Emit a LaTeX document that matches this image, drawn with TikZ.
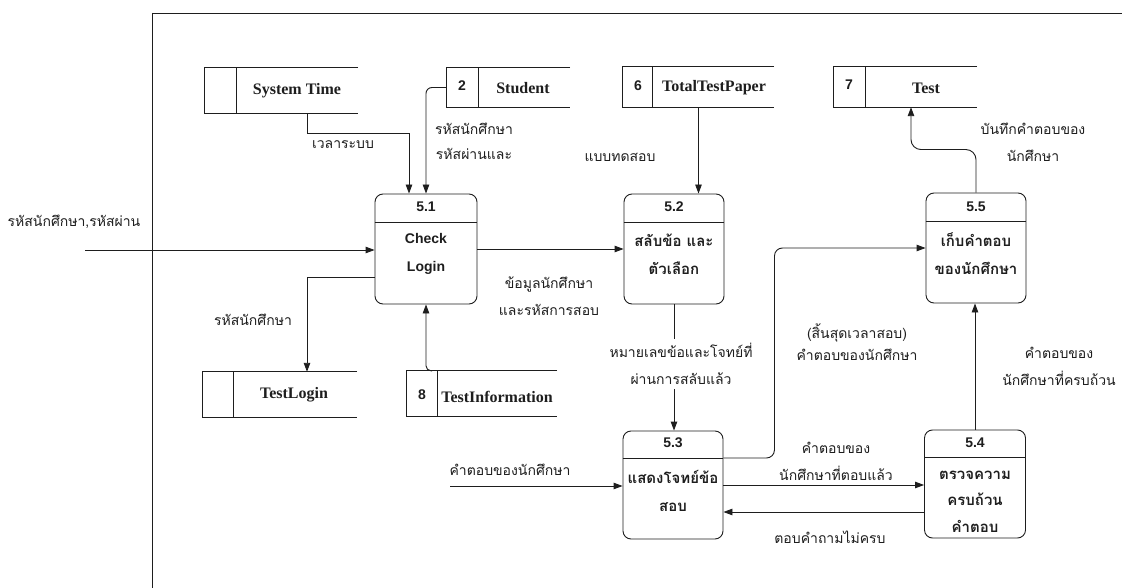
\documentclass[tikz,border=0pt]{standalone}
\usepackage{fontspec}
\setmainfont{Liberation Serif}
\newfontfamily\thaifont[Script=Thai]{Loma}
\newfontfamily\headfont{Liberation Sans}
\usetikzlibrary{arrows.meta}

\definecolor{ink}{HTML}{1E1E1E}

\tikzset{
  proc/.style={draw=ink, line width=0.9pt, rounded corners=8pt, inner sep=0pt},
  store/.style={inner sep=0pt},
  storeline/.style={draw=ink, line width=0.9pt},
  flow/.style={draw=ink, line width=0.9pt, -{Triangle[length=9pt,width=6.5pt]}},
  sname/.style={text=ink, font=\bfseries\fontsize{16}{18}\selectfont, inner sep=0pt},
  snum/.style={text=ink, font=\headfont\bfseries\fontsize{14}{16}\selectfont, inner sep=0pt},
  ptitle/.style={text=ink, font=\headfont\bfseries\fontsize{14}{16}\selectfont, inner sep=0pt},
  platin/.style={text=ink, align=center, font=\headfont\bfseries\fontsize{14}{28}\selectfont, inner sep=0pt},
  pthai/.style={text=ink, align=center, font=\thaifont\bfseries\fontsize{15}{28}\selectfont, inner sep=0pt},
  lbl/.style={text=ink, align=center, font=\thaifont\fontsize{14}{27}\selectfont, inner sep=1pt},
}

\begin{document}
\begin{tikzpicture}[x=1pt, y=-1pt]
\useasboundingbox (0,0) rectangle (1122,588);
\fill[white] (0,0) rectangle (1122,588);

% context frame
\draw[ink, line width=0.9pt] (152,13) -- (1122,13);
\draw[ink, line width=0.9pt] (152,13) -- (152,588);

% ---------- data stores ----------
\node[store, minimum width=153pt, minimum height=45pt] (systime) at (281.5,90.5) {};
\draw[storeline] (systime.north east) -- (systime.north west) -- (systime.south west) -- (systime.south east);
\draw[storeline] (236,68) -- (236,113);
\node[sname] (systimetxt) at (297,91) {System Time};

\node[store, minimum width=123pt, minimum height=39pt] (student) at (508.5,87.5) {};
\draw[storeline] (student.north east) -- (student.north west) -- (student.south west) -- (student.south east);
\draw[storeline] (478,68) -- (478,107);
\node[snum] (studentnum) at (462,86) {2};
\node[sname] (studenttxt) at (523,88) {Student};

\node[store, minimum width=151pt, minimum height=40pt] (totaltest) at (698.5,87) {};
\draw[storeline] (totaltest.north east) -- (totaltest.north west) -- (totaltest.south west) -- (totaltest.south east);
\draw[storeline] (652,67) -- (652,107);
\node[snum] (totaltestnum) at (638,86) {6};
\node[sname] (totaltesttxt) at (714,88) {TotalTestPaper};

\node[store, minimum width=143pt, minimum height=40pt] (test) at (905.5,87) {};
\draw[storeline] (test.north east) -- (test.north west) -- (test.south west) -- (test.south east);
\draw[storeline] (865,67) -- (865,107);
\node[snum] (testnum) at (849,85) {7};
\node[sname] (testtxt) at (926,88) {Test};

\node[store, minimum width=154pt, minimum height=45pt] (testlogin) at (280,394.5) {};
\draw[storeline] (testlogin.north east) -- (testlogin.north west) -- (testlogin.south west) -- (testlogin.south east);
\draw[storeline] (233,372) -- (233,417);
\node[sname] (testlogintxt) at (294,395) {TestLogin};

\node[store, minimum width=150pt, minimum height=45pt] (testinfo) at (482,393.5) {};
\draw[storeline] (testinfo.north east) -- (testinfo.north west) -- (testinfo.south west) -- (testinfo.south east);
\draw[storeline] (437,371) -- (437,416);
\node[snum] (testinfonum) at (422,395) {8};
\node[sname] (testinfotxt) at (497,397) {TestInformation};

% ---------- processes ----------
\node[proc, minimum width=102pt, minimum height=110pt] (p51) at (426,249) {};
\draw[storeline] (p51.west |- 0,222) -- (p51.east |- 0,222);
\node[ptitle] (p51t) at (426,207) {5.1};
\node[platin] (p51b) at (426,254) {Check\\Login};

\node[proc, minimum width=100pt, minimum height=110pt] (p52) at (674,249) {};
\draw[storeline] (p52.west |- 0,222) -- (p52.east |- 0,222);
\node[ptitle] (p52t) at (674,207) {5.2};
\node[pthai] (p52b) at (674,254) {สลับข้อ และ\\ตัวเลือก};

\node[proc, minimum width=100pt, minimum height=110pt] (p55) at (976,248) {};
\draw[storeline] (p55.west |- 0,221) -- (p55.east |- 0,221);
\node[ptitle] (p55t) at (976,207) {5.5};
\node[pthai] (p55b) at (976,254) {เก็บคำตอบ\\ของนักศึกษา};

\node[proc, minimum width=100pt, minimum height=108pt] (p53) at (673,485) {};
\draw[storeline] (p53.west |- 0,458) -- (p53.east |- 0,458);
\node[ptitle] (p53t) at (673,443) {5.3};
\node[pthai] (p53b) at (673,491) {แสดงโจทย์ข้อ\\สอบ};

\node[proc, minimum width=101pt, minimum height=108pt] (p54) at (975,484) {};
\draw[storeline] (p54.west |- 0,457) -- (p54.east |- 0,457);
\node[ptitle] (p54t) at (975,443) {5.4};
\node[pthai, font=\thaifont\bfseries\fontsize{15}{26.5}\selectfont] (p54b) at (975,501.5) {ตรวจความ\\ครบถ้วน\\คำตอบ};

% ---------- data flows ----------
\coordinate (extin) at (85,250);
\draw[flow] (extin) -- (extin -| p51.west);
\node[lbl] (lblextin) at (74,222) {รหัสนักศึกษา,รหัสผ่าน};

\draw[flow] ([xshift=25.5pt]systime.south) -- ++(0,20) -| ([xshift=-17pt]p51.north);
\node[lbl] (lbltime) at (343,145) {เวลาระบบ};

\draw[flow, rounded corners=6pt] (student.west) -| (p51.north);
\node[lbl, font=\thaifont\fontsize{14}{25}\selectfont] (lblstudent) at (474,141) {รหัสนักศึกษา\\รหัสผ่านและ};

\draw[flow] ([yshift=-28pt]p51.west) -| ([xshift=27pt]testlogin.north);
\node[lbl] (lbllogin) at (253,320) {รหัสนักศึกษา};

\draw[flow, rounded corners=5pt] ([xshift=-50pt]testinfo.north) -| (p51.south);

\draw[flow] (p51.east) -- (p52.west);
\node[lbl] (lbl12) at (549,296) {ข้อมูลนักศึกษา\\และรหัสการสอบ};

\draw[flow] (totaltest.south) -- (totaltest.south |- p52.north);
\node[lbl] (lblpaper) at (620,157) {แบบทดสอบ};

\draw[flow] (p52.south) -- (p52.south |- p53.north);
\node[lbl, fill=white, inner ysep=4pt] (lbl23) at (681,364) {หมายเลขข้อและโจทย์ที่\\ผ่านการสลับแล้ว};

\draw[flow, rounded corners=8pt] ([yshift=27pt]p53.east) -- ++(51,0) |- (p55.west);
\node[lbl, font=\thaifont\fontsize{14}{22}\selectfont] (lbl35) at (857,342) {(สิ้นสุดเวลาสอบ)\\คำตอบของนักศึกษา};

\draw[flow] (p53.east) -- (p53.east -| p54.west);
\node[lbl] (lbl34) at (836,461) {คำตอบของ\\นักศึกษาที่ตอบแล้ว};

\draw[flow] ([yshift=-28pt]p54.west) -- ([yshift=-28pt]p54.west -| p53.east);
\node[lbl] (lbl43) at (830,537) {ตอบคำถามไม่ครบ};

\draw[flow] (p54.north) -- (p54.north |- p55.south);
\node[lbl] (lbl45) at (1059,366) {คำตอบของ\\นักศึกษาที่ครบถ้วน};

\draw[flow, rounded corners=10pt] (p55.north) -- ++(0,-43) -| ([xshift=5.5pt]test.south);
\node[lbl] (lbl5t) at (1033,142) {บันทึกคำตอบของ\\นักศึกษา};

\coordinate (ansin) at (450,486);
\draw[flow] (ansin) -- (ansin -| p53.west);
\node[lbl] (lblans) at (510,470) {คำตอบของนักศึกษา};

\end{tikzpicture}
\end{document}
